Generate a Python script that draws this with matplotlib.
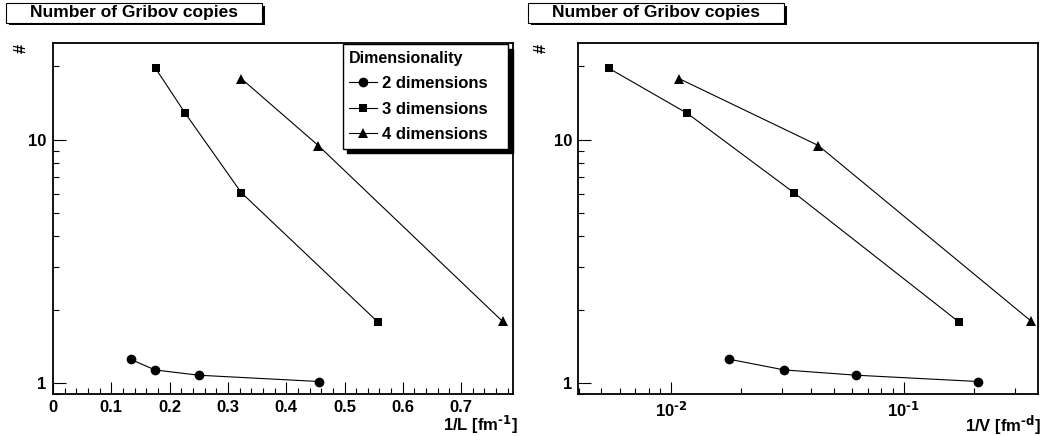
import numpy as np
import matplotlib
matplotlib.use("Agg")
import matplotlib.pyplot as plt
from matplotlib.patches import Rectangle
from matplotlib.ticker import MultipleLocator, LogLocator, FuncFormatter, NullFormatter

plt.rcParams['font.family'] = ['Liberation Sans', 'DejaVu Sans']
plt.rcParams['font.weight'] = 'bold'
plt.rcParams['mathtext.default'] = 'regular'

# data
inv_L_2d = [0.133, 0.175, 0.250, 0.456]
inv_L_3d = [0.176, 0.227, 0.323, 0.557]
inv_L_4d = [0.323, 0.455, 0.771]

inv_V_2d = [0.0178, 0.0307, 0.0626, 0.208]
inv_V_3d = [0.00541, 0.01175, 0.0337, 0.1725]
inv_V_4d = [0.01082, 0.0429, 0.3535]

copies_2d = [1.25, 1.13, 1.075, 1.013]
copies_3d = [19.6, 12.8, 6.05, 1.78]
copies_4d = [17.8, 9.45, 1.79]

labels = ["2 dimensions", "3 dimensions", "4 dimensions"]
markers = ["o", "s", "^"]
msizes = [7, 6.3, 7]

W, H = 1044, 436
fig = plt.figure(figsize=(W / 100, H / 100), dpi=100)

ax1 = fig.add_axes([53 / W, 1 - 394 / H, 460 / W, 351.3 / H])
ax2 = fig.add_axes([578.3 / W, 1 - 394 / H, 459.7 / W, 351.3 / H])


def style_axis(ax):
    ax.set_yscale("log")
    ax.set_ylim(0.9, 25)
    ax.yaxis.set_major_locator(LogLocator(base=10))
    ax.yaxis.set_minor_locator(LogLocator(base=10, subs=np.arange(2, 10)))
    ax.yaxis.set_major_formatter(FuncFormatter(lambda v, p: "%g" % v))
    ax.yaxis.set_minor_formatter(NullFormatter())
    ax.tick_params(which="both", direction="in", top=False, right=False,
                   labelsize=12, width=0.8, pad=4.5)
    ax.tick_params(which="major", length=9)
    ax.tick_params(which="minor", length=4.5)
    for sp in ax.spines.values():
        sp.set_linewidth(1.3)


def pow10(v, p):
    e = int(round(np.log10(v)))
    return r"$10^{\text{%d}}$" % e


xs_left = [inv_L_2d, inv_L_3d, inv_L_4d]
xs_right = [inv_V_2d, inv_V_3d, inv_V_4d]
ys = [copies_2d, copies_3d, copies_4d]

for ax, xs in [(ax1, xs_left), (ax2, xs_right)]:
    for x, y, m, ms, lab in zip(xs, ys, markers, msizes, labels):
        ax.plot(x, y, color="black", lw=0.8, marker=m, ms=ms,
                markeredgewidth=0, label=lab)
    style_axis(ax)

# left panel x axis
ax1.set_xlim(0, 0.789)
ax1.xaxis.set_major_locator(MultipleLocator(0.1))
ax1.xaxis.set_minor_locator(MultipleLocator(0.02))
ax1.xaxis.set_major_formatter(FuncFormatter(lambda v, p: "%g" % round(v, 3)))

# right panel x axis
ax2.set_xscale("log")
ax2.set_xlim(0.00399, 0.3775)
ax2.xaxis.set_major_locator(LogLocator(base=10))
ax2.xaxis.set_minor_locator(LogLocator(base=10, subs=np.arange(2, 10)))
ax2.xaxis.set_major_formatter(FuncFormatter(pow10))
ax2.xaxis.set_minor_formatter(NullFormatter())
ax2.tick_params(axis="x", which="both", direction="in")

# x titles, right aligned
fig.text(518 / W, 1 - 425 / H, r"1/L [fm$^{\text{-1}}$]", ha="right", va="center",
         fontsize=12, fontweight="bold")
fig.text(1041 / W, 1 - 425 / H, r"1/V [fm$^{\text{-d}}$]", ha="right", va="center",
         fontsize=12, fontweight="bold")

# y titles
for xpx in [21.7, 541.7]:
    fig.text(xpx / W, 1 - 48 / H, "#", rotation=90, ha="center", va="center",
             fontsize=12, fontweight="bold")

# title boxes with shadow
for x0 in [6, 528]:
    bw, bh = 256, 19.4
    y0 = 1 - 22.7 / H
    fig.patches.append(Rectangle(((x0 + 2.5) / W, y0 - 2.5 / H), bw / W, bh / H,
                                 transform=fig.transFigure, facecolor="black",
                                 edgecolor="black", lw=0))
    fig.patches.append(Rectangle((x0 / W, y0), bw / W, bh / H,
                                 transform=fig.transFigure, facecolor="white",
                                 edgecolor="black", lw=0.8))
    fig.text((x0 + bw / 2) / W, y0 + bh / 2 / H, "Number of Gribov copies",
             ha="center", va="center", fontsize=12.5, fontweight="bold")

# legend
leg = ax1.legend(loc="upper left", bbox_to_anchor=(0.6298, 0.7023, 0.36, 0.2931),
                 mode="expand", borderaxespad=0, fancybox=False,
                 shadow={"ox": 3.2, "oy": -3.2, "facecolor": "black",
                         "edgecolor": "black", "alpha": 1},
                 title="Dimensionality", alignment="left",
                 title_fontproperties={"size": 11.5, "weight": "bold"},
                 prop={"size": 12, "weight": "bold"},
                 handlelength=1.65, handletextpad=0.3, labelspacing=0.62,
                 borderpad=0.4)
leg.get_frame().set_edgecolor("black")
leg.get_frame().set_linewidth(1.0)

fig.savefig("out.png", dpi=100)
